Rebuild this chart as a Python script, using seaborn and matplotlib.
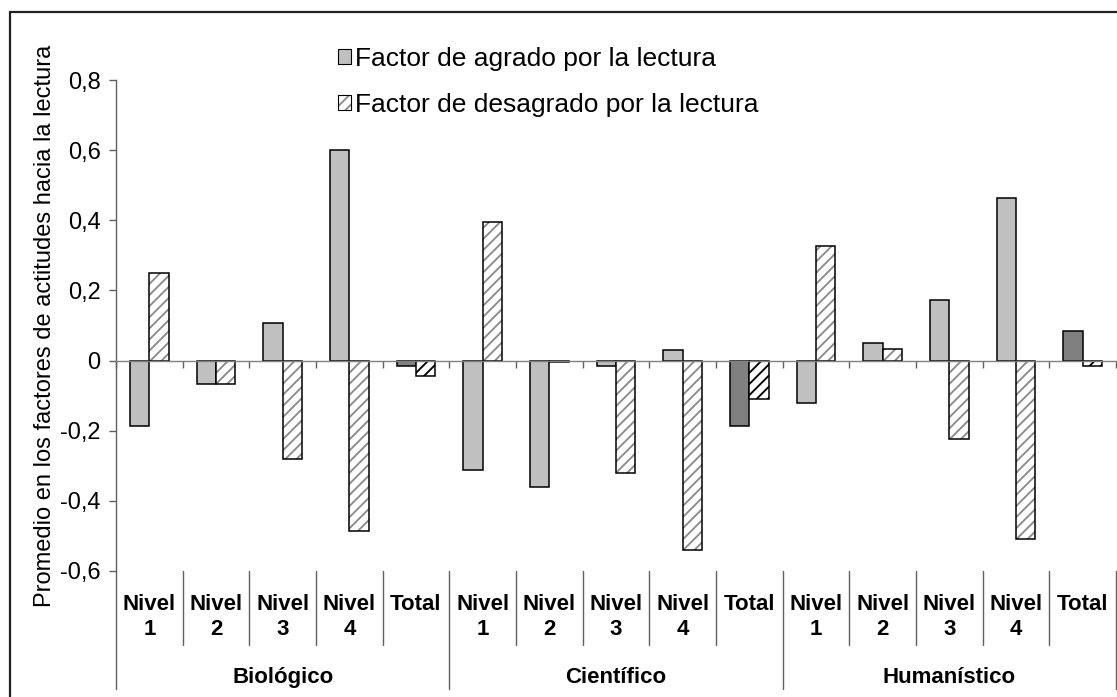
import numpy as np
import pandas as pd
import matplotlib
matplotlib.use("Agg")
import matplotlib.pyplot as plt
import matplotlib.patches as mpatches
import seaborn as sns

# Datos
grupos = ["Biológico", "Científico", "Humanístico"]
niveles = ["Nivel\n1", "Nivel\n2", "Nivel\n3", "Nivel\n4", "Total"]
agrado = [-0.187, -0.068, 0.107, 0.599, -0.015,
          -0.312, -0.360, -0.015, 0.030, -0.187,
          -0.120, 0.050, 0.173, 0.464, 0.083]
desagrado = [0.251, -0.068, -0.282, -0.486, -0.044,
             0.396, -0.003, -0.320, -0.541, -0.110,
             0.328, 0.034, -0.224, -0.509, -0.015]
series = ["Factor de agrado por la lectura", "Factor de desagrado por la lectura"]
yticks = [-0.6, -0.4, -0.2, 0, 0.2, 0.4, 0.6, 0.8]
ytick_labels = ["-0,6", "-0,4", "-0,2", "0", "0,2", "0,4", "0,6", "0,8"]

cats = [g + " " + n for g in grupos for n in niveles]
df = pd.DataFrame({
    "cat": cats * 2,
    "factor": [series[0]] * len(cats) + [series[1]] * len(cats),
    "valor": agrado + desagrado,
})

sns.set_style("white")
plt.rcParams["font.family"] = ["Liberation Sans", "DejaVu Sans"]
plt.rcParams["hatch.linewidth"] = 1.35
plt.rcParams["text.color"] = "black"
plt.rcParams["axes.labelcolor"] = "black"
plt.rcParams["ytick.color"] = "black"

fig = plt.figure(figsize=(11.17, 6.97), dpi=100)
ax = fig.add_axes([116 / 1117, 126 / 697, 1000 / 1117, 491 / 697])

sns.barplot(data=df, x="cat", y="valor", hue="factor", order=cats,
            palette=["#C0C0C0", "white"], width=0.58, edgecolor="black",
            linewidth=1.1, legend=False, ax=ax)

gris = matplotlib.colors.to_rgba("#8c8c8c")
for i, p in enumerate(ax.containers[0].patches):
    p.set_edgecolor("black")
    if niveles[i % 5] == "Total":
        p.set_facecolor("#808080")
for i, p in enumerate(ax.containers[1].patches):
    p.set_facecolor("white")
    p.set_hatch("///")
    p.set_edgecolor("black")
    if niveles[i % 5] != "Total":
        p._hatch_color = gris

ax.set_xlim(-0.5, len(cats) - 0.5)
ax.set_ylim(-0.6, 0.8)
ax.set_yticks(yticks)
ax.set_yticklabels(ytick_labels, fontsize=17)
ax.set_xticks(np.arange(len(cats) + 1) - 0.5)
ax.set_xticklabels([])
ax.set_xlabel("")
ax.set_ylabel("Promedio en los factores de actitudes hacia la lectura", fontsize=17)
ax.yaxis.set_label_coords(-0.060, 0.5)

for s in ["top", "right"]:
    ax.spines[s].set_visible(False)
ax.spines["bottom"].set_position(("data", 0))
ax.spines["bottom"].set_color("#808080")
ax.spines["left"].set_color("#606060")
ax.spines["left"].set_linewidth(1.0)
ax.spines["bottom"].set_linewidth(1.0)
ax.tick_params(axis="y", direction="out", length=5, width=1, color="#606060", pad=6, left=True)
ax.tick_params(axis="x", direction="out", length=5, width=1, color="#606060", bottom=True)

# Etiquetas de categorias en dos niveles
tr = ax.get_xaxis_transform()
for i, c in enumerate(cats):
    ax.text(i, -0.046, niveles[i % 5], transform=tr, ha="center", va="top",
            fontsize=16, fontweight="bold", linespacing=1.25)
for k in range(len(cats) + 1):
    largo = -0.240 if k % 5 == 0 else -0.1507
    ax.plot([k - 0.5, k - 0.5], [0, largo], transform=tr, color="#606060",
            lw=1.0, clip_on=False)
for j, g in enumerate(grupos):
    ax.text(j * 5 + 2, -0.216, g, transform=tr, ha="center", va="center",
            fontsize=16, fontweight="bold")

# Leyenda
h1 = mpatches.Patch(facecolor="#C0C0C0", edgecolor="black", lw=0.8)
h2 = mpatches.Patch(facecolor="white", edgecolor="black", lw=0.8, hatch="///")
h2._hatch_color = gris
fig.legend([h1, h2], series, loc="center left",
           bbox_to_anchor=(338 / 1117, 1 - 82 / 697), frameon=False,
           fontsize=19, handlelength=0.5, handleheight=0.5,
           handletextpad=0.15, labelspacing=0.82, borderpad=0,
           borderaxespad=0)

# Marco exterior
fig.patches.append(mpatches.Rectangle((10 / 1117, -0.1), 2, 1.1 - 12 / 697,
                                      transform=fig.transFigure, fill=False,
                                      edgecolor="#222222", lw=1.6))

fig.savefig("out.png", dpi=100)
